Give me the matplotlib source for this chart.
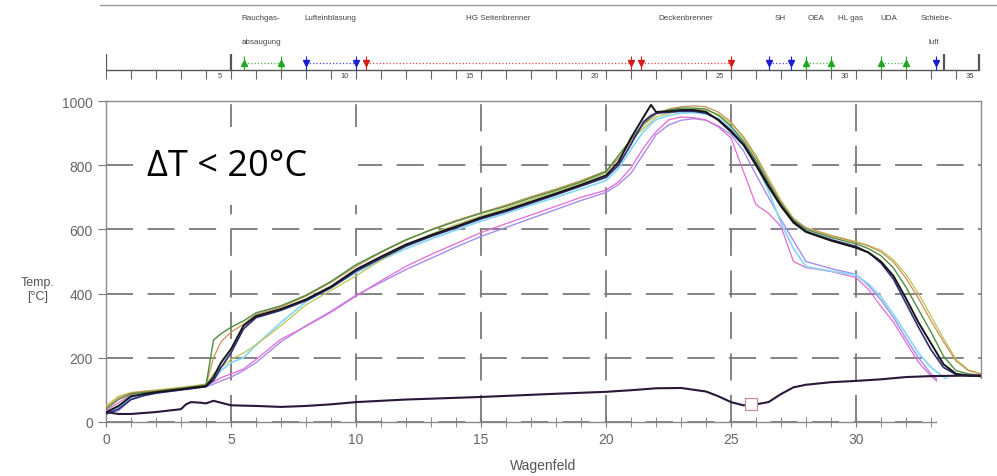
import matplotlib
matplotlib.use("Agg")
import matplotlib.pyplot as plt
import matplotlib.transforms as mtransforms
from matplotlib.lines import Line2D
from matplotlib.patches import Rectangle

# Wagenfeld positions shared by the kiln-car curves
wagenfeld = [0, 0.5, 1, 1.5, 2, 3, 4, 4.3, 4.6, 5, 5.5, 6, 7, 8, 9, 10, 11, 12, 13, 14,
             15, 16, 17, 18, 19, 20, 20.5, 21, 21.5, 21.8, 22, 22.5, 23, 23.5, 24, 24.5,
             25, 25.5, 26, 26.5, 27, 27.5, 28, 29, 30, 30.5, 31, 31.5, 32, 32.5, 33, 33.5,
             34, 34.5, 35]

temp_black = [30, 50, 80, 87, 93, 102, 112, 140, 185, 227, 300, 330, 352, 382, 422, 475, 515, 553, 582, 609,
              637, 660, 686, 712, 739, 768, 810, 885, 950, 988, 966, 968, 972, 972, 966, 940,
              904, 863, 800, 733, 672, 621, 592, 565, 543, 528, 500, 455, 385, 310, 245, 180,
              150, 145, 143]
temp_navy = [25, 40, 70, 82, 90, 100, 110, 130, 170, 215, 290, 325, 348, 378, 418, 470, 510, 548, 578, 605,
             633, 656, 682, 708, 735, 762, 800, 865, 935, 955, 962, 965, 968, 968, 962, 942,
             908, 866, 805, 738, 675, 625, 594, 568, 547, 528, 495, 445, 370, 295, 225, 170,
             148, 144, 142]
temp_green = [40, 70, 88, 92, 95, 105, 115, 255, 275, 295, 315, 340, 362, 395, 438, 490, 530, 568, 598, 625,
              650, 672, 698, 722, 748, 780, 830, 880, 930, 950, 962, 972, 978, 978, 975, 955,
              922, 875, 815, 745, 680, 628, 600, 575, 555, 540, 518, 480, 420, 350, 280, 205,
              160, 150, 145]
temp_orange = [45, 75, 90, 95, 98, 106, 116, 200, 250, 280, 305, 335, 358, 392, 435, 485, 528, 566, 600, 628,
               652, 676, 702, 726, 752, 782, 820, 872, 925, 945, 958, 975, 982, 985, 982, 965,
               935, 885, 825, 752, 685, 632, 605, 580, 560, 548, 530, 498, 448, 385, 315, 250,
               190, 160, 150]
temp_olive = [50, 80, 92, 96, 100, 108, 118, 150, 170, 195, 215, 240, 300, 365, 410, 455, 505, 548, 585, 615,
              642, 666, 692, 718, 745, 775, 830, 878, 915, 935, 950, 962, 970, 975, 972, 958,
              930, 890, 830, 760, 690, 635, 605, 582, 562, 550, 535, 505, 460, 400, 330, 260,
              195, 162, 150]
temp_pink = [35, 60, 85, 92, 97, 105, 115, 125, 138, 150, 165, 195, 258, 298, 342, 392, 440, 485, 522, 556,
             590, 618, 645, 672, 700, 722, 748, 792, 854, 885, 904, 941, 950, 948, 941, 919,
             885, 780, 677, 650, 609, 500, 481, 469, 450, 413, 360, 311, 248, 186, 143, 110,
             95, 90, 88]
temp_cyan = [30, 45, 75, 85, 92, 102, 112, 130, 160, 185, 200, 240, 310, 375, 420, 465, 505, 540, 570, 598,
             626, 650, 676, 700, 726, 752, 790, 850, 905, 928, 942, 955, 962, 964, 960, 945,
             915, 870, 805, 720, 620, 540, 484, 470, 458, 430, 390, 335, 275, 215, 170, 140,
             120, 110, 105]
temp_violet = [28, 35, 70, 82, 90, 100, 110, 118, 128, 140, 160, 185, 250, 300, 345, 395, 435, 475, 510, 545,
               578, 606, 634, 662, 690, 715, 740, 775, 835, 870, 895, 925, 940, 945, 940, 922,
               895, 845, 770, 700, 630, 565, 500, 478, 460, 425, 380, 325, 260, 200, 150, 115,
               100, 95, 92]

# lower curve (kiln car bottom)
bottom_x = [0, 0.5, 1, 2, 3, 3.2, 3.4, 3.8, 4, 4.3, 4.6, 5, 6, 7, 8, 9, 10, 12, 15, 18,
            20, 21, 22, 23, 24, 24.5, 25, 25.5, 26, 26.5, 27, 27.5, 28, 29, 30, 31, 32, 33, 34, 35]
bottom_y = [31, 25, 25, 31, 40, 55, 62, 60, 58, 66, 60, 52, 50, 47, 50, 55, 62, 70, 78, 88,
            94, 99, 105, 106, 95, 80, 62, 52, 55, 62, 87, 108, 116, 124, 128, 133, 140, 143, 144, 145]
marker_x = [25.8]
marker_y = [56]

# burner zones shown above the chart
zone_names = ["Rauchgas-", "Lufteinblasung", "HG Seitenbrenner", "Deckenbrenner",
              "SH", "OEA", "HL gas", "UDA", "Schiebe-"]
zone_pos = [6.2, 8.96, 15.7, 23.2, 26.96, 28.4, 29.8, 31.3, 33.2]
zone_names2 = ["absaugung", "luft"]
zone_pos2 = [6.2, 33.1]

seg_start = [5.5, 8.0, 10.4, 21.4, 26.5, 28.0, 31.0]
seg_end = [7.0, 10.0, 21.0, 25.0, 27.4, 29.0, 32.0]
seg_kind = ["g", "b", "r", "r", "b", "g", "g"]
single_arrow = [33.2]
ruler_bars = [0, 5, 33.5, 34.9]

kind_color = {"g": "#1fa81f", "b": "#1c1cd0", "r": "#d41e1e"}
kind_marker = {"g": "^", "b": "v", "r": "v"}

W, H = 997, 477
fig = plt.figure(figsize=(W / 100, H / 100), dpi=100)
plt.rcParams["font.family"] = ["Liberation Sans", "DejaVu Sans"]

ax = fig.add_axes([106 / W, 1 - 423 / H, 875 / W, 321 / H])
ax.set_xlim(0, 35)
ax.set_ylim(0, 1000)

curves = [
    (temp_violet, "#a88cf0", 1.0),
    (temp_pink, "#e26ad6", 0.9),
    (temp_cyan, "#8ad8f2", 1.3),
    (temp_olive, "#bcc45a", 0.9),
    (temp_orange, "#c8925a", 0.9),
    (temp_green, "#4e8e3c", 1.0),
    (temp_navy, "#2c2c78", 1.2),
    (temp_black, "#161616", 1.4),
]
for ys, col, lw in curves:
    ax.plot(wagenfeld, ys, color=col, lw=lw, zorder=3)

ax.plot(bottom_x, bottom_y, color="#2a1838", lw=1.5, zorder=3)
ax.plot(marker_x, marker_y, "s", ms=8.5, mfc="white", mec="#c09090", mew=0.9, zorder=4)

ax.set_xticks(range(0, 31, 5))
ax.set_xticks(range(0, 35), minor=True)
ax.set_yticks(range(0, 1001, 200))
ax.tick_params(axis="x", which="both", direction="inout", length=7, color="#777",
               labelsize=10, labelcolor="#666", pad=4)
ax.tick_params(axis="y", direction="out", length=6, color="#777", labelsize=10, labelcolor="#666")
ax.grid(True, color="#7a7a7a", lw=1.3, linestyle=(0, (15, 8)), zorder=1)
for s in ax.spines.values():
    s.set_color("#8a8a8a")
    s.set_linewidth(1.0)
ax.set_xlabel("Wagenfeld", fontsize=10, color="#555", labelpad=8)
fig.text(38 / W, 1 - 290 / H, "Temp.\n[°C]", ha="center", va="center", fontsize=9,
         color="#555", linespacing=1.3)

# white label box over the grid
ax.add_patch(Rectangle((1.08, 677), 9.0, 242, facecolor="white", edgecolor="none", zorder=2))
ax.text(1.65, 770, "\u0394T < 20°C", fontsize=26, family=["Open Sans", "DejaVu Sans"],
        color="black", zorder=5)

# ruler strip with burner zones
rax = fig.add_axes([106 / W, 1 - 82 / H, 875 / W, 32 / H])
rax.set_xlim(0, 35)
rax.set_ylim(0, 1)
rax.axis("off")
rax.plot([0, 34.9], [0.35, 0.35], color="#555", lw=1.0)
rax.vlines(range(0, 35), 0.05, 0.35, color="#666", lw=0.8)
for k in range(5, 36, 5):
    rax.text(k - 0.45, 0.17, str(k), fontsize=5.5, ha="center", va="center", color="#444")
rax.vlines(ruler_bars, 0.35, 0.85, color="#555", lw=1.6)
for a, b, kd in zip(seg_start, seg_end, seg_kind):
    c = kind_color[kd]
    rax.plot([a, b], [0.56, 0.56], color=c, lw=0.9, ls=":", alpha=0.8)
    rax.vlines([a, b], 0.35, 0.78, color=c, lw=0.8)
    rax.plot([a, b], [0.56, 0.56], ls="none", marker=kind_marker[kd], ms=5, color=c)
rax.vlines(single_arrow, 0.35, 0.78, color=kind_color["b"], lw=0.8)
rax.plot(single_arrow, [0.56], ls="none", marker="v", ms=5, color=kind_color["b"])

trans = mtransforms.blended_transform_factory(rax.transData, fig.transFigure)
for name, xp in zip(zone_names, zone_pos):
    fig.text(xp, 1 - 18 / H, name, transform=trans, fontsize=5.8, ha="center",
             va="center", color="#444")
for name, xp in zip(zone_names2, zone_pos2):
    fig.text(xp, 1 - 43 / H, name, transform=trans, fontsize=5.8, ha="center",
             va="center", color="#444")

fig.add_artist(Line2D([100 / W, 1.0], [1 - 6 / H, 1 - 6 / H], color="#9a9a9a", lw=1.0))
# white patch hiding the lower right corner
fig.add_artist(Rectangle((937 / W, 1 - 447 / H), 50 / W, 67 / H, facecolor="white",
                         edgecolor="none", transform=fig.transFigure, zorder=10))

fig.savefig("out.png", dpi=100)
